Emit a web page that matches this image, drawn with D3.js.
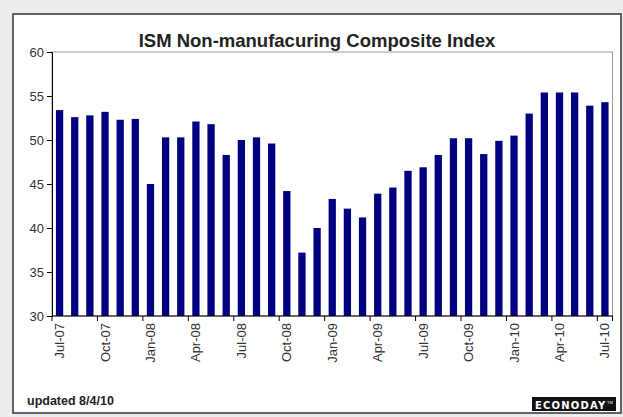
<!DOCTYPE html>
<html><head><meta charset="utf-8">
<script src="https://cdn.jsdelivr.net/npm/d3@7/dist/d3.min.js"></script>
<style>body{margin:0;background:#ececec;} svg{display:block;}</style>
</head><body>
<svg id="c" width="623" height="417"></svg>
<script>
const months = ["Jul-07","Aug-07","Sep-07","Oct-07","Nov-07","Dec-07","Jan-08","Feb-08","Mar-08","Apr-08","May-08","Jun-08","Jul-08","Aug-08","Sep-08","Oct-08","Nov-08","Dec-08","Jan-09","Feb-09","Mar-09","Apr-09","May-09","Jun-09","Jul-09","Aug-09","Sep-09","Oct-09","Nov-09","Dec-09","Jan-10","Feb-10","Mar-10","Apr-10","May-10","Jun-10","Jul-10"];
const values = [53.4,52.6,52.8,53.2,52.3,52.4,45.0,50.3,50.3,52.1,51.8,48.3,50.0,50.3,49.6,44.2,37.2,40.0,43.3,42.2,41.2,43.9,44.6,46.5,46.9,48.3,50.2,50.2,48.4,49.9,50.5,53.0,55.4,55.4,55.4,53.9,54.3];
const yTicks = [30,35,40,45,50,55,60];
const labelMonths = months.filter((m,i)=>i%3===0);

const svg = d3.select("#c");
svg.append("rect").attr("x",13).attr("y",14).attr("width",608).attr("height",399)
  .attr("fill","#fff").attr("stroke","#333").attr("stroke-width",1.5);

const L=52, R=612.5, T=52, B=316;
const x = d3.scaleBand().domain(months).range([L,R]).paddingInner(0.52).paddingOuter(0.26);
const xb = d3.scaleBand().domain(months).range([L,R]);
const y = d3.scaleLinear().domain([30,60]).range([B,T]);

svg.append("rect").attr("x",L).attr("y",T).attr("width",R-L).attr("height",B-T)
  .attr("fill","none").attr("stroke","#999").attr("stroke-width",1);

svg.append("g").selectAll("rect").data(values).join("rect")
  .attr("x",(d,i)=>x(months[i])).attr("width",x.bandwidth())
  .attr("y",d=>y(d)).attr("height",d=>B-y(d)).attr("fill","#000080");

const ya = svg.append("g").attr("transform",`translate(${L},0)`)
  .call(d3.axisLeft(y).tickValues(yTicks).tickSize(5).tickPadding(3));
ya.select(".domain").attr("stroke","#000");
ya.selectAll("text").attr("font-family","Arial, Liberation Sans, sans-serif").attr("font-size",13).attr("fill","#333");

const xg = svg.append("g").attr("transform",`translate(0,${B})`);
xg.append("line").attr("x1",L).attr("x2",R).attr("stroke","#000");
xg.selectAll("line.t").data(labelMonths).join("line").attr("class","t")
  .attr("x1",d=>xb(d)).attr("x2",d=>xb(d)).attr("y1",0).attr("y2",5).attr("stroke","#000");
xg.append("line").attr("x1",R).attr("x2",R).attr("y1",0).attr("y2",5).attr("stroke","#000");
xg.selectAll("text").data(labelMonths).join("text")
  .attr("transform",d=>`translate(${xb(d)+xb.bandwidth()/2+4.5},7) rotate(-90)`)
  .attr("text-anchor","end").attr("font-family","Arial, Liberation Sans, sans-serif")
  .attr("font-size",13).attr("fill","#333").text(d=>d);

svg.append("text").attr("x",317).attr("y",47).attr("text-anchor","middle")
  .attr("font-family","Arial, Liberation Sans, sans-serif").attr("font-weight","bold")
  .attr("font-size",18.5).attr("fill","#222").text("ISM Non-manufacuring Composite Index");

svg.append("text").attr("x",27).attr("y",405)
  .attr("font-family","Arial, Liberation Sans, sans-serif").attr("font-weight","bold")
  .attr("font-size",12.5).attr("fill","#222").text("updated 8/4/10");

svg.append("rect").attr("x",532).attr("y",397).attr("width",84).attr("height",14).attr("fill","#111");
svg.append("text").attr("x",535).attr("y",408.5).attr("font-family","DejaVu Sans, sans-serif")
  .attr("font-weight","bold").attr("font-size",10).attr("letter-spacing",1.2).attr("fill","#fff").text("ECONODAY");
svg.append("text").attr("x",607).attr("y",404).attr("font-family","Arial, sans-serif")
  .attr("font-size",4).attr("fill","#fff").text("TM");
</script>
</body></html>
